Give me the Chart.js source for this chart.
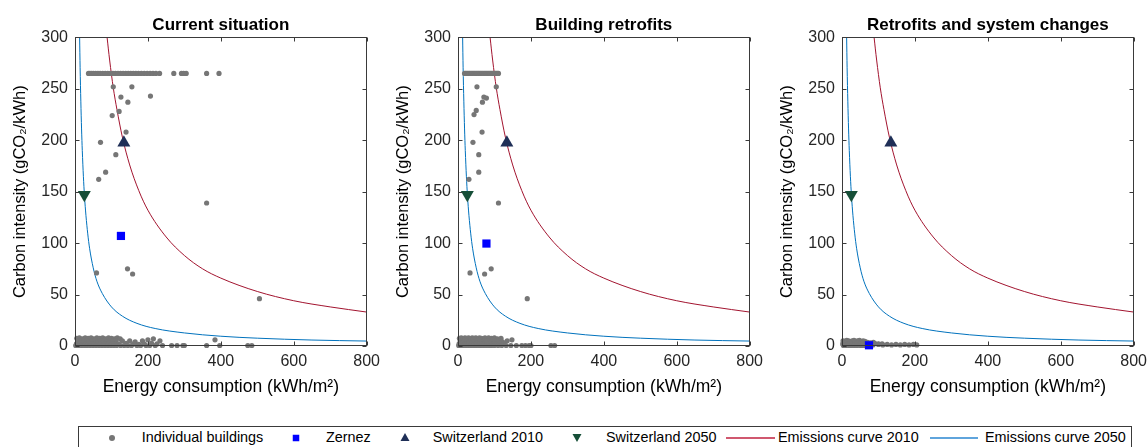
<!DOCTYPE html>
<html><head><meta charset="utf-8">
<script src="https://cdn.jsdelivr.net/npm/chart.js@4.4.1/dist/chart.umd.min.js"></script>
<style>
html,body{margin:0;padding:0;background:#fff;width:1148px;height:447px;overflow:hidden;font-family:"Liberation Sans",Arial,sans-serif;position:relative;}
canvas{position:absolute;top:0;}
#legendBox{position:absolute;left:78px;top:426px;width:1054px;height:30px;border:1px solid #3a3a3a;box-sizing:border-box;}
.lt{position:absolute;top:429px;font-size:14.4px;line-height:17px;color:#000;white-space:nowrap;}
.lm{position:absolute;}
</style></head><body>
<canvas id="c1" width="386" height="400" style="left:0px"></canvas>
<canvas id="c2" width="386" height="400" style="left:383px"></canvas>
<canvas id="c3" width="386" height="400" style="left:767px"></canvas>
<div id="legendBox"></div>
<svg class="lm" style="left:108px;top:434px" width="8" height="8"><circle cx="4" cy="4" r="3" fill="#767676"/></svg>
<span class="lt" style="left:141.7px">Individual buildings</span>
<svg class="lm" style="left:292px;top:434px" width="8" height="8"><rect x="0.75" y="0.75" width="6.5" height="6.5" fill="#0000ff"/></svg>
<span class="lt" style="left:326px">Zernez</span>
<svg class="lm" style="left:400px;top:432px" width="10" height="10"><polygon points="5,1 9.5,9 0.5,9" fill="#1f2f57"/></svg>
<span class="lt" style="left:432.7px">Switzerland 2010</span>
<svg class="lm" style="left:572px;top:433px" width="10" height="10"><polygon points="0.5,1 9.5,1 5,9" fill="#164f38"/></svg>
<span class="lt" style="left:606px">Switzerland 2050</span>
<svg class="lm" style="left:726px;top:433px" width="50" height="10"><line x1="0" y1="5" x2="49" y2="5" stroke="#c0203f" stroke-width="1.3"/></svg>
<span class="lt" style="left:778px">Emissions curve 2010</span>
<svg class="lm" style="left:930px;top:433px" width="50" height="10"><line x1="0" y1="5" x2="48" y2="5" stroke="#2a86d0" stroke-width="1.3"/></svg>
<span class="lt" style="left:985px">Emissions curve 2050</span>
<script>
// ---------- data ----------
const panelTitles = ['Current situation', 'Building retrofits', 'Retrofits and system changes'];
const xTicks = [0, 200, 400, 600, 800];
const yTicks = [0, 50, 100, 150, 200, 250, 300];

// Panel 1: current situation – individual buildings
const curX = [37,41,46,51,57,63,69,76,83,90,97,104,111,118,125,132,139,146,153,160,167,174,182,190,198,206,214,222,232,271,292,298,305,361,395,
  105,156,126,145,207,102,121,140,70,112,84,65,361,59,144,158,506,
  5,12,20,28,36,44,52,60,68,76,84,92,100,108,116,124,
  8,16,24,32,40,48,56,64,72,80,88,96,104,112,130,150,165,185,200,215,233,
  4,14,22,30,38,46,54,62,70,78,86,94,102,110,120,140,160,175,190,210,225,
  2,10,18,26,34,42,50,58,66,74,82,90,98,106,114,125,135,145,155,170,180,195,205,220,240,265,280,296,300,361,397,474,485,384];
const curY = [265,265,265,265,265,265,265,265,265,265,265,265,265,265,265,265,265,265,265,265,265,265,265,265,265,265,265,265,265,265,265,265,265,265,265,
  252,252,242,237,243,224,228,208,198,186,169,162,139,71,75,70,46,
  7.5,8,7,8,7.5,8,7,8,7.5,8,7,8,7.5,7,8,7,
  5,4.5,5.5,5,4,5,6,4.5,5,5.5,4,5,4.5,5,5,5,4,5,6,7,5,
  2,2.5,1.5,2,3,2,1.5,2.5,2,1.5,2,3,2,1.5,2,2.5,2,1.5,2,2.5,2,
  0.5,0.5,0.5,0.5,0.5,0.5,0.5,0.5,0.5,0.5,0.5,0.5,0.5,0.5,0.5,0.5,0.5,0.5,0.5,0.5,0.5,0.5,0.5,0.5,0.5,0.5,0.5,0.5,0.5,0.5,0.5,0.5,0.5,6];

// Panel 2: building retrofits – individual buildings
const retX = [18,21,24,27,30,33,36,39,42,45,48,51,54,57,60,63,66,69,72,75,78,81,84,87,90,93,96,99,102,105,108,111,
  52,105,71,78,67,50,44,66,41,57,57,30,111,33,91,73,190,
  4,9,14,19,24,29,34,39,44,49,54,59,64,69,74,79,84,92,100,108,118,
  6,12,18,24,30,36,42,48,54,60,66,72,78,86,94,102,112,122,135,148,
  3,10,17,24,31,38,45,52,59,66,73,80,87,95,104,114,126,
  2,8,15,22,29,36,43,50,57,64,71,78,85,92,100,110,120,132,145,160,175,185,195,200,255,265];
const retY = [265,265,265,265,265,265,265,265,265,265,265,265,265,265,265,265,265,265,265,265,265,265,265,265,265,265,265,265,265,265,265,265,
  252,252,242,241,237,229,225,208,198,186,169,162,139,71,75,70,46,
  7.5,8,7,8,7.5,8,7,8,7.5,8,7,8,7.5,7,8,7,8,7.5,8,7,7.5,
  5,4.5,5.5,5,4,5,6,4.5,5,5.5,4,5,4.5,5,5.5,4.5,5,4,5,6,
  2,2.5,1.5,2,3,2,1.5,2.5,2,1.5,2,3,2,1.5,2,2.5,2,
  0.5,0.5,0.5,0.5,0.5,0.5,0.5,0.5,0.5,0.5,0.5,0.5,0.5,0.5,0.5,0.5,0.5,0.5,0.5,0.5,0.5,0.5,0.5,0.5,0.5,0.5];

// Panel 3: retrofits and system changes – individual buildings
const sysX = [3,8,13,18,23,28,33,38,43,48,53,58,63,
  5,10,15,20,25,30,35,40,45,50,55,60,65,70,78,86,
  2,7,12,17,22,27,32,37,42,47,52,57,62,67,72,80,90,100,110,
  4,11,19,26,34,41,49,56,64,71,85,100,112,124,136,148,160,172,184,196,205];
const sysY = [5,4.5,5.5,5,4,5,5.5,4.5,5,5.5,4,5,4.5,
  3.5,3,4,3.5,3,3.5,4,3,3.5,3,3.5,4,3,3.5,3,3.5,
  2,2.5,1.5,2,2.5,2,1.5,2.5,2,1.5,2,2.5,2,1.5,2,2,2.5,2,2,
  0.5,0.5,0.5,0.5,0.5,0.5,0.5,0.5,0.5,0.5,1,1.5,1,1.5,1,1.5,1,1.5,1,1.5,1];

// Zernez
const zernezX = [126, 78, 74];
const zernezY = [107, 99.6, 0.7];

// Switzerland reference points
const ch2010X = [134], ch2010Y = [197.5];
const ch2050X = [25.6], ch2050Y = [147];

// Emission curves
const curve2010X = [88,95,105,115,130,150,175,200,250,300,350,400,500,600,700,800];
const curve2010Y = [300,278,251,230,203,176,151,132,106,88,75,66,53,44,38,33];
const curve2050X = [12.7,14,16,18,20,23,26,30,35,40,50,60,75,100,130,170,220,300,400,500,650,800];
const curve2050Y = [300,271,238,211,190,165,146,127,109,95,76,63,51,38,29,22,17,12.7,9.5,7.6,5.8,4.8];

// ---------- drawing ----------
const FONT = 'Liberation Sans';
const pts = (xs, ys) => xs.map((x, i) => ({x, y: ys[i]}));

const framePlugin = {
  id: 'frame',
  afterDraw(chart) {
    const {ctx, chartArea: a, scales: {x, y}} = chart;
    ctx.save();
    ctx.strokeStyle = '#3a3a3a';
    ctx.lineWidth = 1;
    const L = Math.round(a.left) + 0.5, R = Math.round(a.right) - 0.5;
    const T = Math.round(a.top) + 0.5, B = Math.round(a.bottom) - 0.5;
    ctx.strokeRect(L, T, R - L, B - T);
    ctx.beginPath();
    xTicks.forEach(v => {
      const px = Math.round(x.getPixelForValue(v)) + 0.5;
      ctx.moveTo(px, B); ctx.lineTo(px, B - 4);
      ctx.moveTo(px, T); ctx.lineTo(px, T + 4);
    });
    yTicks.forEach(v => {
      const py = Math.round(y.getPixelForValue(v)) + 0.5;
      ctx.moveTo(L, py); ctx.lineTo(L + 4, py);
      ctx.moveTo(R, py); ctx.lineTo(R - 4, py);
    });
    ctx.stroke();
    ctx.restore();
  }
};

function makeChart(id, title, bx, by, zIdx) {
  return new Chart(document.getElementById(id), {
    type: 'scatter',
    data: {
      datasets: [
        {label: 'Emissions curve 2010', type: 'line', data: pts(curve2010X, curve2010Y), borderColor: '#a2142f', borderWidth: 1, pointRadius: 0, cubicInterpolationMode: 'monotone', fill: false, order: 3},
        {label: 'Emissions curve 2050', type: 'line', data: pts(curve2050X, curve2050Y), borderColor: '#0072bd', borderWidth: 1, pointRadius: 0, cubicInterpolationMode: 'monotone', fill: false, order: 3},
        {label: 'Individual buildings', data: pts(bx, by), backgroundColor: '#767676', borderWidth: 0, pointRadius: 2.6, clip: false, order: 2},
        {label: 'Zernez', data: [{x: zernezX[zIdx], y: zernezY[zIdx]}], pointStyle: 'rect', pointRadius: 5.8, backgroundColor: '#0000ff', borderWidth: 0, clip: false, order: 1},
        {label: 'Switzerland 2010', data: pts(ch2010X, ch2010Y), pointStyle: 'triangle', pointRadius: 7.5, backgroundColor: '#1f2f57', borderWidth: 0, clip: false, order: 1},
        {label: 'Switzerland 2050', data: pts(ch2050X, ch2050Y), pointStyle: 'triangle', rotation: 180, pointRadius: 7.5, backgroundColor: '#164f38', borderWidth: 0, clip: false, order: 1}
      ]
    },
    options: {
      responsive: false,
      animation: false,
      events: [],
      layout: {padding: {left: 0, right: 9, top: 0, bottom: 0}},
      plugins: {
        legend: {display: false},
        tooltip: {enabled: false},
        title: {display: true, text: title, fullSize: false, color: '#000',
          font: {family: FONT, size: 17, weight: 'bold'}, padding: {top: 15, bottom: 2}}
      },
      scales: {
        x: {
          type: 'linear', min: 0, max: 800,
          grid: {display: false, drawTicks: false}, border: {display: false},
          ticks: {stepSize: 200, color: '#262626', font: {family: FONT, size: 16}, padding: 6, maxRotation: 0},
          title: {display: true, text: 'Energy consumption (kWh/m²)', color: '#000', font: {family: FONT, size: 17.5}, padding: {top: 0, bottom: 2}},
          afterFit: s => { s.height = 54; }
        },
        y: {
          type: 'linear', min: 0, max: 300,
          grid: {display: false, drawTicks: false}, border: {display: false},
          ticks: {stepSize: 50, color: '#262626', font: {family: FONT, size: 16}, padding: 7},
          title: {display: true, text: 'Carbon intensity (gCO₂/kWh)', color: '#000', font: {family: FONT, size: 16.5}, padding: {top: 10.6, bottom: 0}},
          afterFit: s => { s.width = 75; }
        }
      }
    },
    plugins: [framePlugin]
  });
}

makeChart('c1', panelTitles[0], curX, curY, 0);
makeChart('c2', panelTitles[1], retX, retY, 1);
makeChart('c3', panelTitles[2], sysX, sysY, 2);
</script>
</body></html>
